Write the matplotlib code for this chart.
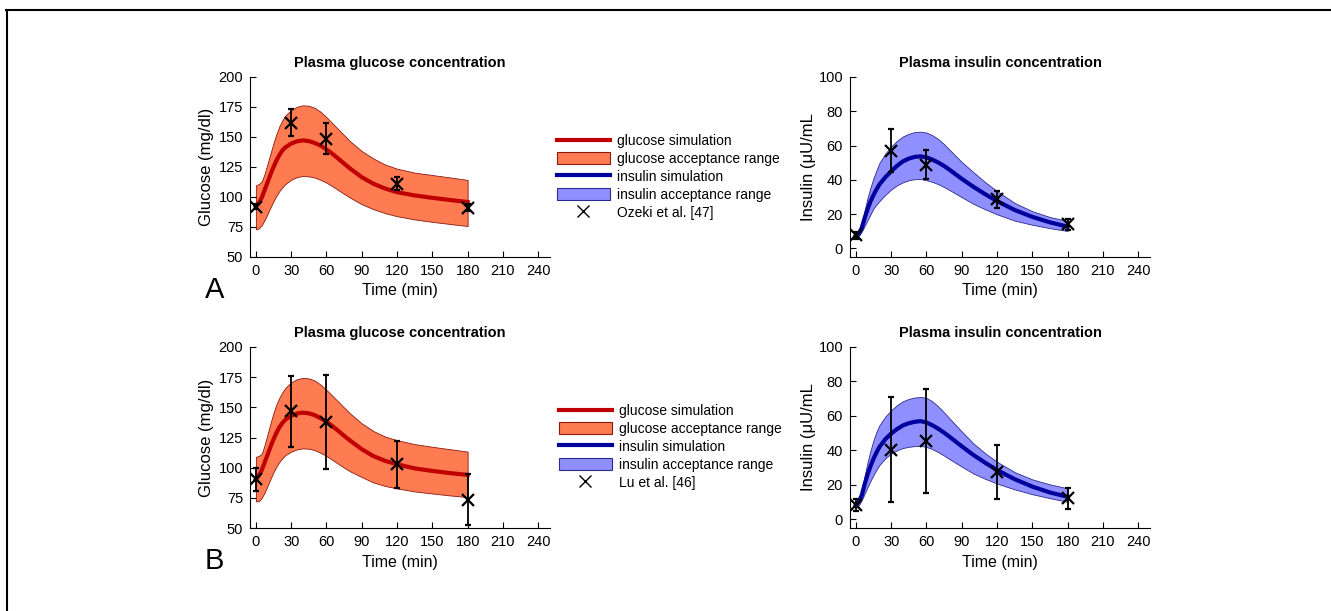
import matplotlib
matplotlib.use('Agg')
import matplotlib.pyplot as plt
from matplotlib.lines import Line2D
from matplotlib.patches import Patch

plt.rcParams['font.family'] = ['Liberation Sans', 'DejaVu Sans']

# simulated glucose curves (mg/dl)
t_glu = [0, 2.5, 5, 7.5, 10, 12.5, 15, 17.5, 20, 22.5, 25, 30, 35, 40, 45, 50, 55, 60, 65, 70,
         75, 80, 90, 100, 110, 120, 135, 150, 165, 180]
glu_sim_a = [92, 95, 99.4, 106, 112.5, 119, 125, 130.5, 135, 138.8, 141.3, 144.6, 146.4, 147.2, 146.6,
             145, 142.8, 139.7, 136, 132, 127.8, 123.8, 116.5, 111, 107, 104, 101.3, 99.3, 97.5, 95.8]
glu_hi_a = [109.7, 110.8, 113, 119.5, 128, 136.5, 145, 152.5, 159, 164, 167.8, 172.6, 175.2, 176.4, 176,
            174.3, 171, 166.5, 161.5, 156.5, 151.5, 146.5, 138.3, 132, 127, 123.6, 120.3, 118.3, 116.3, 114.2]
glu_lo_a = [73, 73.8, 76.5, 81, 86, 91.5, 96.5, 101, 105, 108, 110.8, 114.4, 116.6, 117.5, 117.2,
            116.2, 114.3, 112, 109, 105.8, 102.6, 99.5, 94, 89.8, 86.5, 84, 81.3, 79.3, 77.5, 75.8]
glu_sim_b = [90.3, 93.5, 98, 104.5, 111, 117.5, 123.5, 129, 133.5, 137, 139.7, 143, 144.9, 145.6, 145,
             143.5, 141, 138, 134.5, 130.5, 126.4, 122.5, 115.3, 109.5, 105.6, 102.8, 99.4, 97.3, 95.5, 94]
glu_hi_b = [108.9, 109.8, 111.5, 119, 128, 137, 145.5, 152.5, 158, 162.5, 166, 170.8, 173.3, 174.4, 174,
            172.2, 168.8, 164.4, 159.6, 154.7, 149.8, 145, 136.7, 130.3, 125.7, 122.8, 119.5, 117.3, 115.3, 113.3]
glu_lo_b = [72.2, 72.2, 75, 79.5, 85, 90.8, 96.3, 101, 104.8, 107.8, 110.3, 113.3, 115.2, 116, 115.7,
            114.5, 112.3, 109.7, 106.5, 103.2, 100, 97, 92.2, 87.7, 84.8, 82.8, 80.3, 78.6, 77, 75.6]

# simulated insulin curves (uU/mL)
t_ins = [0, 2.5, 5, 7.5, 10, 12.5, 15, 17.5, 20, 25, 30, 35, 40, 45, 50, 55, 60, 65, 70, 75, 80,
         90, 100, 110, 120, 135, 150, 165, 180]
ins_sim_a = [7.3, 8.6, 12, 17.8, 23, 27.6, 31.2, 34.4, 37.3, 41.5, 45, 48.2, 50.8, 52.4, 53.4, 53.7,
             53.1, 51.8, 50.1, 48.1, 45.7, 40.6, 35.9, 31.6, 27.6, 22.4, 18.4, 15.2, 12.7]
ins_hi_a = [7.3, 9, 14.2, 22.5, 29.8, 35.8, 41, 45.6, 49.8, 55.3, 59.5, 62.8, 65.3, 66.9, 67.9, 68.1,
            67.6, 66, 63.8, 60.8, 57.3, 50.4, 44.4, 38.6, 33.4, 26.5, 21.7, 18.3, 16]
ins_lo_a = [6.4, 7.4, 9.8, 13.2, 16.6, 20, 23.3, 25.6, 27.6, 31.2, 34.4, 36.8, 38.6, 39.8, 40.4, 40.5,
            39.8, 38.8, 37.5, 35.8, 33.9, 29.9, 26, 22.8, 19.9, 16.2, 13.8, 11.8, 10.2]
ins_sim_b = [8.3, 10.2, 14, 20.5, 26.2, 31, 35.2, 38.8, 42, 46.5, 49.8, 52.4, 54.5, 55.8, 56.6, 57,
             56.2, 54.6, 52.6, 50.3, 47.7, 42.4, 37.3, 32.8, 28.6, 23.3, 19, 15.6, 13.1]
ins_hi_b = [9.3, 11.5, 17, 25.5, 33.4, 40.2, 46, 50.8, 54.6, 59.6, 63.3, 66.3, 68.5, 69.9, 70.7, 71,
            70.5, 68.5, 65.5, 62, 58.3, 51, 44, 38.3, 33.4, 27.4, 23.2, 20.3, 18]
ins_lo_b = [6.8, 8.2, 11.2, 15, 18.8, 22.5, 25.8, 28.8, 31.5, 35.4, 38.2, 40.1, 41.4, 42.1, 42.5, 42.7,
            42, 40.8, 39, 37, 34.8, 30.6, 26.6, 23.5, 20.8, 17.4, 14.6, 12.3, 10.2]

# measured data
t_obs = [0, 30, 60, 120, 180]
glu_obs_a = [92, 162, 148.6, 111, 91]
glu_err_a = [2, 11.5, 13, 5.5, 3]
ins_obs_a = [7.7, 57, 48.8, 28.6, 14]
ins_err_a = [2, 12.5, 8.5, 5, 3]
glu_obs_b = [90.3, 146.7, 137.5, 102.8, 73.6]
glu_err_b = [9.7, 29.6, 39, 19.7, 20.8]
ins_obs_b = [8.3, 40.5, 45.4, 27.6, 12.2]
ins_err_b = [3.3, 30.6, 30, 15.6, 6.2]

sources = ['Ozeki et al. [47]', 'Lu et al. [46]']
panel_letters = ['A', 'B']

GLU_LINE = '#c00000'
GLU_FILL = '#ff7b52'
GLU_EDGE = '#8b1a10'
INS_LINE = '#00009c'
INS_FILL = '#8f8fff'
INS_EDGE = '#2a2a90'
TICK_FS = 10.5


def style_axes(ax):
    for s in ('top', 'right'):
        ax.spines[s].set_visible(False)
    ax.tick_params(direction='in', length=4, labelsize=TICK_FS, width=0.8, pad=5)
    ax.set_xlim(-5, 250)
    ax.set_xticks(range(0, 241, 30))
    ax.set_xlabel('Time (min)', fontsize=11.5, labelpad=4)


def draw_row(ax_g, ax_i, g_sim, g_hi, g_lo, g_obs, g_err, i_sim, i_hi, i_lo, i_obs, i_err):
    ax_g.fill_between(t_glu, g_lo, g_hi, facecolor=GLU_FILL, edgecolor=GLU_EDGE, lw=0.6)
    ax_g.plot(t_glu, g_sim, color=GLU_LINE, lw=3, solid_joinstyle='round')
    ax_g.errorbar(t_obs, g_obs, yerr=g_err, fmt='x', color='black', ms=9, mew=1.6,
                  elinewidth=1.3, capsize=2)
    style_axes(ax_g)
    ax_g.set_ylim(50, 200)
    ax_g.set_yticks(range(50, 201, 25))
    ax_g.set_ylabel('Glucose (mg/dl)', fontsize=12, labelpad=3)
    ax_g.set_title('Plasma glucose concentration', fontsize=10.5, fontweight='bold', pad=7)

    ax_i.fill_between(t_ins, i_lo, i_hi, facecolor=INS_FILL, edgecolor=INS_EDGE, lw=0.6)
    ax_i.plot(t_ins, i_sim, color=INS_LINE, lw=3, solid_joinstyle='round')
    ax_i.errorbar(t_obs, i_obs, yerr=i_err, fmt='x', color='black', ms=9, mew=1.6,
                  elinewidth=1.3, capsize=2)
    style_axes(ax_i)
    ax_i.set_ylim(-5, 100)
    ax_i.set_yticks(range(0, 101, 20))
    ax_i.set_ylabel('Insulin (\u03bcU/mL', fontsize=12, labelpad=2)
    ax_i.set_title('Plasma insulin concentration', fontsize=10.5, fontweight='bold', pad=7)


fig = plt.figure(figsize=(13.31, 6.11), dpi=100)
W, H = 1331, 611

rows = [
    (glu_sim_a, glu_hi_a, glu_lo_a, glu_obs_a, glu_err_a, ins_sim_a, ins_hi_a, ins_lo_a, ins_obs_a, ins_err_a),
    (glu_sim_b, glu_hi_b, glu_lo_b, glu_obs_b, glu_err_b, ins_sim_b, ins_hi_b, ins_lo_b, ins_obs_b, ins_err_b),
]
row_px = [(77, 257), (347, 528)]
legend_px = [(557, 134), (559, 404)]

for k, data in enumerate(rows):
    top, bot = row_px[k]
    ax_g = fig.add_axes([250 / W, 1 - bot / H, 300 / W, (bot - top) / H])
    ax_i = fig.add_axes([850 / W, 1 - bot / H, 300 / W, (bot - top) / H])
    draw_row(ax_g, ax_i, *data)

    handles = [
        Line2D([], [], color=GLU_LINE, lw=3),
        Patch(facecolor=GLU_FILL, edgecolor=GLU_EDGE, lw=0.8),
        Line2D([], [], color=INS_LINE, lw=3),
        Patch(facecolor=INS_FILL, edgecolor=INS_EDGE, lw=0.8),
        Line2D([], [], ls='none', marker='x', color='black', ms=8, mew=1.0),
    ]
    labels = ['glucose simulation', 'glucose acceptance range', 'insulin simulation',
              'insulin acceptance range', sources[k]]
    lx, ly = legend_px[k]
    fig.legend(handles, labels, loc='upper left', bbox_to_anchor=(lx / W, 1 - ly / H),
               frameon=False, fontsize=10, borderpad=0, borderaxespad=0,
               handlelength=3.8, handleheight=1.0, handletextpad=0.5, labelspacing=0.28)

    fig.text(205 / W, 1 - (bot + 33) / H, panel_letters[k], fontsize=21, va='center', ha='left')

# page frame (top and left edges)
fig.add_artist(Line2D([6 / W, 1], [1 - 9.5 / H, 1 - 9.5 / H], color='black', lw=1.5))
fig.add_artist(Line2D([6.5 / W, 6.5 / W], [0, 1 - 9.5 / H], color='black', lw=1.5))

fig.savefig('out.png', dpi=100)
